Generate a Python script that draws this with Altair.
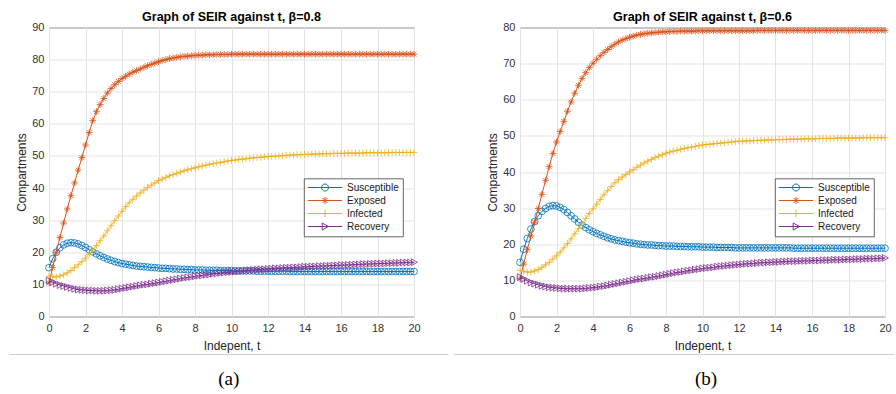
import altair as alt
import pandas as pd

# ---------------- data ----------------
T = [round(0.2 * i, 1) for i in range(101)]
SERIES = ["Susceptible", "Exposed", "Infected", "Recovery"]
COLORS = ["#0072BD", "#D95319", "#EDB120", "#7E2F8E"]

# panel (a), beta = 0.8
S_A = [15.2, 18.0, 20.0, 21.4, 22.3, 22.8, 23.0, 22.9, 22.6, 22.1,
       21.5, 20.8, 20.1, 19.5, 18.9, 18.4, 17.9, 17.5, 17.1, 16.8,
       16.5, 16.3, 16.1, 15.9, 15.7, 15.6, 15.5, 15.4, 15.3, 15.2,
       15.1, 15.0, 15.0, 14.9, 14.8, 14.8, 14.7, 14.7, 14.6, 14.6,
       14.5, 14.5, 14.5, 14.4, 14.4, 14.4, 14.4, 14.3, 14.3, 14.3,
       14.3, 14.2, 14.2, 14.2, 14.2, 14.2, 14.2, 14.1, 14.1, 14.1,
       14.1, 14.1, 14.1, 14.1, 14.1, 14.1, 14.0, 14.0, 14.0, 14.0,
       14.0, 14.0, 14.0, 14.0, 14.0, 14.0, 14.0, 14.0, 14.0, 14.0,
       14.0, 14.0, 14.0, 14.0, 14.0, 14.0, 14.0, 14.0, 14.0, 14.0,
       14.0, 14.0, 14.0, 14.0, 14.0, 14.0, 14.0, 14.0, 14.0, 14.0,
       14.0]
E_A = [10.5, 15.3, 20.0, 24.6, 29.1, 33.5, 37.6, 41.6, 45.6, 49.5,
       53.4, 57.3, 61.0, 63.8, 66.0, 67.9, 69.6, 71.0, 72.2, 73.2,
       74.1, 74.8, 75.5, 76.1, 76.6, 77.1, 77.6, 78.1, 78.5, 78.9,
       79.3, 79.7, 80.0, 80.3, 80.5, 80.7, 80.9, 81.0, 81.1, 81.2,
       81.3, 81.4, 81.4, 81.5, 81.5, 81.5, 81.6, 81.6, 81.6, 81.6,
       81.7, 81.7, 81.7, 81.7, 81.7, 81.7, 81.7, 81.7, 81.7, 81.7,
       81.7, 81.7, 81.7, 81.7, 81.7, 81.7, 81.7, 81.7, 81.7, 81.7,
       81.7, 81.7, 81.7, 81.7, 81.7, 81.7, 81.7, 81.7, 81.7, 81.7,
       81.7, 81.7, 81.7, 81.7, 81.7, 81.7, 81.7, 81.7, 81.7, 81.7,
       81.7, 81.7, 81.7, 81.7, 81.7, 81.7, 81.7, 81.7, 81.7, 81.7,
       81.7]
I_A = [12.6, 12.4, 12.3, 12.6, 13.0, 13.6, 14.3, 15.2, 16.1, 17.1,
       18.2, 19.4, 20.7, 22.1, 23.6, 25.1, 26.7, 28.3, 29.8, 31.3,
       32.8, 34.2, 35.4, 36.5, 37.5, 38.5, 39.4, 40.2, 40.9, 41.6,
       42.3, 42.8, 43.3, 43.8, 44.2, 44.6, 45.0, 45.4, 45.7, 46.0,
       46.3, 46.6, 46.9, 47.1, 47.4, 47.6, 47.8, 48.0, 48.2, 48.4,
       48.6, 48.7, 48.9, 49.0, 49.1, 49.3, 49.4, 49.5, 49.6, 49.7,
       49.8, 49.9, 49.9, 50.0, 50.1, 50.2, 50.2, 50.3, 50.4, 50.4,
       50.5, 50.5, 50.6, 50.6, 50.6, 50.7, 50.7, 50.7, 50.8, 50.8,
       50.8, 50.8, 50.9, 50.9, 50.9, 50.9, 50.9, 51.0, 51.0, 51.0,
       51.0, 51.0, 51.0, 51.0, 51.1, 51.1, 51.1, 51.1, 51.1, 51.1,
       51.1]
R_A = [11.2, 10.7, 10.2, 9.8, 9.5, 9.2, 8.9, 8.6, 8.4, 8.3,
       8.2, 8.1, 8.1, 8.0, 8.0, 8.0, 8.1, 8.2, 8.3, 8.5,
       8.7, 8.9, 9.1, 9.3, 9.5, 9.7, 9.9, 10.0, 10.2, 10.4,
       10.6, 10.8, 11.0, 11.2, 11.4, 11.6, 11.8, 12.0, 12.2, 12.3,
       12.5, 12.7, 12.8, 13.0, 13.1, 13.3, 13.4, 13.6, 13.7, 13.8,
       13.9, 14.0, 14.1, 14.2, 14.3, 14.4, 14.5, 14.6, 14.7, 14.7,
       14.8, 14.9, 15.0, 15.0, 15.1, 15.2, 15.2, 15.3, 15.3, 15.4,
       15.5, 15.5, 15.6, 15.6, 15.7, 15.7, 15.8, 15.8, 15.9, 15.9,
       16.0, 16.0, 16.1, 16.1, 16.2, 16.2, 16.3, 16.3, 16.4, 16.4,
       16.5, 16.5, 16.5, 16.6, 16.6, 16.7, 16.7, 16.8, 16.8, 16.8,
       16.9]

# panel (b), beta = 0.6
S_B = [15.0, 18.6, 21.6, 24.2, 26.3, 27.9, 29.1, 29.9, 30.5, 30.7,
       30.6, 30.2, 29.6, 28.8, 27.9, 27.0, 26.1, 25.3, 24.6, 24.0,
       23.5, 23.0, 22.6, 22.2, 21.8, 21.5, 21.2, 21.0, 20.8, 20.6,
       20.4, 20.3, 20.1, 20.0, 19.9, 19.8, 19.8, 19.7, 19.6, 19.6,
       19.5, 19.5, 19.5, 19.4, 19.4, 19.4, 19.3, 19.3, 19.3, 19.3,
       19.2, 19.2, 19.2, 19.2, 19.1, 19.1, 19.1, 19.1, 19.1, 19.0,
       19.0, 19.0, 19.0, 19.0, 19.0, 19.0, 19.0, 19.0, 19.0, 19.0,
       19.0, 19.0, 19.0, 19.0, 19.0, 18.9, 18.9, 18.9, 18.9, 18.9,
       18.9, 18.9, 18.9, 18.9, 18.9, 18.9, 18.9, 18.9, 18.9, 18.9,
       18.9, 18.9, 18.9, 18.9, 18.9, 18.9, 18.9, 18.9, 18.9, 18.9,
       18.9]
E_B = [10.5, 14.5, 18.5, 22.3, 26.1, 29.9, 33.8, 37.7, 41.5, 45.1,
       48.3, 51.2, 54.0, 56.8, 59.4, 61.8, 64.0, 65.9, 67.5, 68.9,
       70.1, 71.2, 72.2, 73.1, 73.9, 74.7, 75.4, 76.0, 76.5, 76.9,
       77.3, 77.6, 77.9, 78.1, 78.3, 78.4, 78.5, 78.6, 78.7, 78.8,
       78.8, 78.9, 78.9, 78.9, 79.0, 79.0, 79.0, 79.0, 79.0, 79.1,
       79.1, 79.1, 79.1, 79.1, 79.1, 79.1, 79.1, 79.1, 79.1, 79.1,
       79.1, 79.1, 79.1, 79.1, 79.1, 79.2, 79.2, 79.2, 79.2, 79.2,
       79.2, 79.2, 79.2, 79.2, 79.2, 79.2, 79.2, 79.2, 79.2, 79.2,
       79.2, 79.2, 79.2, 79.2, 79.2, 79.2, 79.2, 79.2, 79.2, 79.2,
       79.2, 79.2, 79.2, 79.2, 79.2, 79.2, 79.2, 79.2, 79.2, 79.2,
       79.2]
I_B = [12.8, 12.5, 12.3, 12.3, 12.6, 13.0, 13.6, 14.3, 15.0, 15.9,
       16.8, 17.8, 19.0, 20.2, 21.5, 22.9, 24.3, 25.7, 27.1, 28.5,
       29.8, 31.1, 32.4, 33.7, 34.9, 36.0, 37.0, 37.9, 38.6, 39.3,
       40.0, 40.6, 41.3, 41.9, 42.5, 43.0, 43.5, 44.0, 44.4, 44.8,
       45.2, 45.5, 45.8, 46.0, 46.3, 46.5, 46.7, 46.9, 47.1, 47.3,
       47.5, 47.6, 47.7, 47.8, 47.9, 48.0, 48.1, 48.2, 48.3, 48.4,
       48.5, 48.5, 48.6, 48.6, 48.7, 48.7, 48.8, 48.8, 48.9, 48.9,
       48.9, 49.0, 49.0, 49.0, 49.1, 49.1, 49.1, 49.1, 49.2, 49.2,
       49.2, 49.2, 49.3, 49.3, 49.3, 49.3, 49.3, 49.4, 49.4, 49.4,
       49.4, 49.4, 49.4, 49.4, 49.5, 49.5, 49.5, 49.5, 49.5, 49.5,
       49.5]
R_B = [10.9, 10.4, 9.9, 9.4, 9.1, 8.8, 8.5, 8.3, 8.1, 8.0,
       7.9, 7.8, 7.7, 7.7, 7.7, 7.7, 7.7, 7.7, 7.8, 7.9,
       8.0, 8.1, 8.3, 8.4, 8.6, 8.8, 9.0, 9.2, 9.4, 9.6,
       9.8, 10.0, 10.2, 10.4, 10.5, 10.7, 10.9, 11.0, 11.2, 11.4,
       11.6, 11.8, 12.0, 12.2, 12.3, 12.5, 12.7, 12.8, 13.0, 13.1,
       13.3, 13.4, 13.5, 13.6, 13.8, 13.9, 14.0, 14.1, 14.2, 14.3,
       14.4, 14.5, 14.6, 14.6, 14.7, 14.8, 14.9, 14.9, 15.0, 15.0,
       15.1, 15.1, 15.2, 15.2, 15.3, 15.3, 15.3, 15.4, 15.4, 15.4,
       15.5, 15.5, 15.5, 15.6, 15.6, 15.6, 15.7, 15.7, 15.7, 15.8,
       15.8, 15.8, 15.9, 15.9, 15.9, 16.0, 16.0, 16.0, 16.1, 16.1,
       16.2]

for arr in (S_A, E_A, I_A, R_A, S_B, E_B, I_B, R_B):
    assert len(arr) == len(T), len(arr)

X_TICKS = list(range(0, 21, 2))

# ---------------- styling ----------------
FONT = "Liberation Sans"
W, H = 365, 289

# marker shapes used on the curves (o, *, +, >)
MARKERS = [
    "circle",
    "M-1,0L1,0M0,-1L0,1M-0.7,-0.7L0.7,0.7M-0.7,0.7L0.7,-0.7",
    "M-1,0L1,0M0,-1L0,1",
    "M-0.8,-1L1,0L-0.8,1Z",
]
# legend glyphs: line segment with the marker on it
LEG_PATHS = [
    "M-4.9,0L4.9,0M1,0A1,1,0,1,1,-1,0A1,1,0,1,1,1,0",
    "M-4.9,0L4.9,0M0,-1L0,1M-0.7,-0.7L0.7,0.7M-0.7,0.7L0.7,-0.7",
    "M-4.9,0L4.9,0M0,-1L0,1",
    "M-4.9,0L4.9,0M-0.8,-1L1,0L-0.8,1Z",
]


def long_df(s, e, i, r):
    rows = []
    for name, vals in zip(SERIES, (s, e, i, r)):
        for t, v in zip(T, vals):
            rows.append({"t": t, "v": v, "series": name})
    return pd.DataFrame(rows)


def panel(df, ymax, title, caption, cap_x, sep_x1, sep_x2):
    x = alt.X("t:Q", scale=alt.Scale(domain=[0, 20], nice=False, zero=False),
              axis=alt.Axis(values=X_TICKS, title="Indepent, t", labelPadding=6,
                            labelFlush=False, titleY=33, titleBaseline="alphabetic"))
    y = alt.Y("v:Q", scale=alt.Scale(domain=[0, ymax], nice=False),
              axis=alt.Axis(values=list(range(0, ymax + 1, 10)), title="Compartments",
                            labelPadding=5, labelFlush=False, titleX=-23.7, titleY=H / 2,
                            titleAngle=270, titleBaseline="alphabetic",
                            titleAlign="center"))
    layers = []
    for name, color, shape in zip(SERIES, COLORS, MARKERS):
        base = alt.Chart(df).transform_filter(alt.datum.series == name)
        layers.append(base.mark_line(color=color, strokeWidth=1).encode(x=x, y=y))
        layers.append(base.mark_point(color=color, shape=shape, filled=False, size=46,
                                      strokeWidth=0.8, opacity=1).encode(x=x, y=y))
    legend_layer = alt.Chart(df).transform_filter("false").mark_point(
        filled=False, size=49, strokeWidth=1, opacity=1
    ).encode(
        x=x, y=y,
        color=alt.Color("series:N", scale=alt.Scale(domain=SERIES, range=COLORS),
                        legend=alt.Legend(title=None)),
        shape=alt.Shape("series:N", scale=alt.Scale(domain=SERIES, range=LEG_PATHS),
                        legend=alt.Legend(title=None)),
    )
    one = pd.DataFrame({"k": [0]})
    ttl = alt.Chart(one).mark_text(font=FONT, fontSize=12.5, fontWeight="bold",
                                   color="black", baseline="alphabetic",
                                   align="center").encode(
        x=alt.value(W / 2), y=alt.value(-6.5), text=alt.value(title))
    sep = alt.Chart(one).mark_rule(color="#cfcfcf", strokeWidth=1).encode(
        x=alt.value(sep_x1), x2=alt.value(sep_x2), y=alt.value(327))
    cap = alt.Chart(one).mark_text(font="Liberation Serif", fontSize=19, color="black",
                                   baseline="middle", align="center").encode(
        x=alt.value(cap_x), y=alt.value(351), text=alt.value(caption))
    return alt.layer(*layers, legend_layer, ttl, sep, cap).properties(width=W, height=H)


pa = panel(long_df(S_A, E_A, I_A, R_A), 90, "Graph of SEIR against t, β=0.8",
           "(a)", 179.8, -39.7, 399)
pb = panel(long_df(S_B, E_B, I_B, R_B), 80, "Graph of SEIR against t, β=0.6",
           "(b)", 186, -66, 374)

chart = alt.hconcat(pa, pb, spacing=106, bounds="flush").resolve_scale(
    color="independent", shape="independent"
).properties(
    padding={"left": 8, "top": 10.5, "right": 0, "bottom": 0}
).configure_view(
    stroke="#5a5a5a", strokeWidth=1
).configure_axis(
    grid=True, gridColor="#e3e3e3", gridWidth=1, domain=False, ticks=False,
    labelFont=FONT, labelFontSize=11, labelColor="#333333",
    titleFont=FONT, titleFontSize=12, titleFontWeight="normal", titleColor="#262626",
).configure_legend(
    orient="none", legendX=255, legendY=151, fillColor="white", strokeColor="#404040",
    strokeWidth=0.8, padding=4, symbolOffset=12, labelOffset=17, rowPadding=1,
    labelFont=FONT, labelFontSize=10, labelColor="#1a1a1a", symbolStrokeWidth=1,
    symbolSize=49, cornerRadius=0,
)

chart.save("out.html", embed_options={"renderer": "svg", "actions": False})
